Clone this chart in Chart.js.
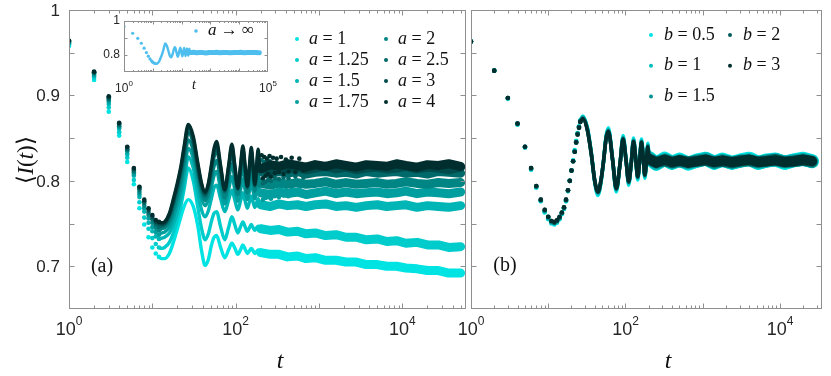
<!DOCTYPE html>
<html>
<head>
<meta charset="utf-8">
<script src="https://cdn.jsdelivr.net/npm/chart.js@4.4.1/dist/chart.umd.min.js"></script>
<style>
  html, body { margin: 0; padding: 0; background: #fff; }
  #wrap { position: relative; width: 831px; height: 376px; }
  #wrap canvas { position: absolute; left: 0; top: 0; }
</style>
</head>
<body>
<div id="wrap">
  <canvas id="leftPanel" width="831" height="376"></canvas>
  <canvas id="rightPanel" width="831" height="376"></canvas>
  <canvas id="insetPanel" width="831" height="376"></canvas>
</div>
<script>
// ---- panel (a): series a = 1 ... 4 ----
const aLabels = ['1', '1.25', '1.5', '1.75', '2', '2.5', '3', '4'];
const aColors = ['#00e3e3', '#00cccc', '#00b5b5', '#009e9e', '#008585', '#006a6a', '#004c4c', '#002d2d'];

// sampled times: single dots, oscillating part, late plateau, scattered transition
const tEarly = [1, 2, 3, 4, 5, 6, 7, 8, 9, 10, 11, 12];
const tOsc = [12, 13, 14, 16, 18, 20, 22, 24, 27, 31, 35, 39, 43, 47, 51, 55, 59, 66, 74, 82, 90, 98, 106, 114, 122, 130, 138, 146, 154, 162, 170, 178, 186, 194, 200];
const tBand = [200, 260, 330, 420, 550, 700, 900, 1200, 1600, 2100, 2800, 3700, 5000, 6500, 8500, 11000, 15000, 20000, 27000, 36000, 50000];
const tScatter = [205, 212, 220, 228, 236, 245, 255, 265, 280, 295, 310, 330, 350, 375, 400, 430, 470, 520, 580, 650];

const a1Early = [.958, .918, .881, .853, .822, .796, .768, .749, .734, .722, .715, .711];
const a125Early = [.960, .921, .886, .857, .827, .801, .775, .757, .744, .733, .726, .722];
const a15Early = [.961, .923, .890, .861, .831, .806, .781, .764, .751, .741, .735, .732];
const a175Early = [.962, .924, .893, .863, .834, .808, .784, .768, .756, .746, .740, .737];
const a2Early = [.963, .926, .895, .864, .836, .810, .787, .771, .760, .751, .745, .742];
const a25Early = [.963, .927, .896, .866, .837, .812, .790, .774, .763, .755, .749, .746];
const a3Early = [.964, .927, .898, .867, .839, .814, .792, .776, .766, .758, .752, .750];
const a4Early = [.964, .928, .899, .868, .840, .815, .793, .778, .768, .760, .754, .752];

const a1Osc = [.711, .709, .709, .715, .729, .744, .758, .770, .778, .770, .748, .718, .701, .708, .724, .734, .736, .722, .710, .719, .727, .721, .714, .719, .725, .720, .715, .718, .721, .718, .715, .717, .719, .717, .716];
const a125Osc = [.722, .721, .722, .728, .740, .755, .771, .790, .815, .800, .770, .744, .731, .738, .752, .762, .764, .746, .731, .745, .758, .748, .739, .746, .752, .746, .741, .745, .749, .745, .742, .745, .747, .745, .744];
const a15Osc = [.732, .733, .734, .739, .750, .764, .780, .799, .828, .815, .787, .766, .758, .765, .779, .792, .795, .779, .764, .777, .789, .777, .766, .776, .786, .776, .768, .775, .782, .775, .769, .774, .779, .773, .772];
const a175Osc = [.737, .739, .740, .746, .758, .773, .790, .810, .838, .826, .799, .779, .771, .778, .792, .806, .811, .790, .773, .789, .805, .789, .776, .789, .802, .789, .778, .788, .799, .788, .779, .787, .796, .787, .786];
const a2Osc = [.742, .744, .745, .752, .766, .782, .800, .820, .848, .835, .808, .786, .777, .785, .801, .817, .824, .801, .780, .801, .820, .801, .784, .801, .817, .801, .786, .800, .813, .800, .788, .799, .810, .798, .797];
const a25Osc = [.746, .747, .748, .757, .773, .790, .808, .829, .857, .843, .814, .791, .782, .791, .810, .828, .836, .811, .787, .811, .833, .811, .790, .811, .831, .811, .792, .811, .828, .811, .794, .811, .826, .811, .811];
const a3Osc = [.750, .749, .750, .760, .777, .795, .814, .836, .863, .849, .819, .795, .785, .795, .815, .834, .842, .815, .789, .815, .839, .815, .791, .815, .837, .815, .793, .815, .835, .815, .795, .815, .833, .815, .814];
const a4Osc = [.752, .751, .752, .762, .780, .798, .817, .840, .866, .852, .822, .797, .787, .797, .818, .838, .846, .818, .790, .817, .843, .817, .792, .817, .841, .817, .794, .817, .839, .817, .796, .817, .837, .816, .812];

const a1Band = [.716, .714, .714, .711, .712, .709, .710, .707, .707, .705, .705, .702, .702, .700, .700, .698, .697, .695, .695, .692, .692];
const a125Band = [.744, .742, .743, .740, .741, .738, .739, .736, .737, .734, .734, .731, .732, .729, .730, .727, .728, .725, .725, .722, .723];
const a15Band = [.772, .770, .773, .771, .772, .770, .772, .773, .770, .771, .769, .771, .772, .770, .771, .772, .769, .771, .770, .769, .771];
const a175Band = [.786, .784, .787, .785, .787, .784, .786, .788, .785, .787, .785, .786, .787, .785, .786, .788, .785, .787, .786, .785, .787];
const a2Band = [.797, .795, .798, .796, .798, .796, .797, .799, .796, .798, .796, .797, .798, .796, .797, .799, .797, .796, .798, .797, .798];
const a25Band = [.811, .808, .811, .809, .811, .808, .810, .811, .809, .810, .808, .811, .809, .810, .811, .809, .810, .808, .811, .810, .809];
const a3Band = [.815, .813, .816, .814, .816, .813, .815, .817, .814, .816, .813, .815, .816, .814, .815, .817, .814, .816, .815, .813, .816];
const a4Band = [.814, .819, .817, .820, .818, .816, .819, .817, .820, .818, .816, .819, .818, .817, .820, .818, .816, .819, .818, .820, .817];

// stray points right after the oscillations break up
const a175Scatter = [.797, .778, .795, .780, .794, .781, .796, .779, .793, .782, .794, .781, .792, .783, .793, .782, .792, .784, .791, .783];
const a25Scatter = [.824, .797, .822, .799, .821, .801, .823, .800, .820, .803, .821, .802, .819, .804, .820, .803, .819, .805, .818, .804];
const a4Scatter = [.830, .803, .828, .806, .826, .808, .829, .805, .827, .809, .826, .810, .828, .808, .825, .811, .827, .810, .826, .812];

// ---- inset: a -> infinity ----
const insetColor = '#4dbeee';
const ainfEarly = [.967, .928, .898, .869, .840, .814, .793, .777, .766, .758, .753, .750];
const ainfOsc = [.750, .748, .749, .758, .776, .795, .815, .839, .868, .853, .822, .796, .786, .797, .818, .838, .846, .818, .790, .817, .843, .817, .792, .817, .841, .817, .794, .817, .839, .817, .796, .817, .837, .816, .813];
const ainfBand = [.814, .816, .813, .815, .814, .812, .815, .814, .816, .813, .814, .815, .813, .815, .814, .816, .813, .814, .815, .814, .813];

// ---- panel (b): series b = 0.5 ... 3 ----
const bLabels = ['0.5', '1', '1.5', '2', '3'];
const bColors = ['#00e3e3', '#00bdbd', '#009090', '#005c5c', '#002d2d'];

const tEarlyR = [1, 2, 3, 4, 5, 6, 7, 8, 9, 10, 11, 12, 13, 14, 15, 16, 17, 18, 19, 20, 21, 22, 23, 24, 25, 26];
const tOscR = [26, 28, 32, 36, 40, 44, 48, 52, 56, 60, 68, 76, 85, 93, 102, 110, 119, 127, 136, 144, 153, 161, 170, 178, 187, 195, 200];
const tBandR = [200, 250, 320, 400, 500, 650, 850, 1100, 1400, 1800, 2400, 3100, 4000, 5200, 6800, 8800, 11500, 15000, 20000, 26000];

const b05Early = [.963, .929, .896, .866, .839, .813, .792, .776, .763, .755, .750, .749, .751, .755, .761, .767, .776, .788, .800, .812, .824, .836, .847, .856, .864, .871];
const b1Early = [.963, .929, .897, .866, .839, .814, .793, .777, .764, .756, .751, .750, .752, .756, .762, .768, .777, .788, .800, .812, .823, .835, .846, .855, .863, .870];
const b15Early = [.963, .929, .897, .867, .840, .814, .793, .777, .765, .757, .752, .751, .753, .757, .762, .768, .777, .789, .800, .812, .823, .834, .845, .855, .863, .870];
const b2Early = [.963, .929, .897, .867, .840, .815, .794, .778, .766, .758, .753, .751, .753, .757, .763, .769, .778, .789, .800, .812, .823, .834, .845, .855, .863, .869];
const b3Early = [.963, .929, .897, .867, .840, .815, .794, .778, .766, .758, .753, .752, .754, .758, .763, .769, .778, .789, .800, .812, .823, .834, .845, .854, .862, .869];

const b05Osc = [.871, .876, .863, .834, .798, .783, .797, .823, .852, .862, .826, .787, .820, .853, .824, .795, .822, .850, .826, .801, .825, .849, .827, .803, .824, .844, .831];
const b1Osc = [.870, .875, .862, .833, .799, .785, .798, .823, .851, .860, .825, .789, .820, .851, .823, .797, .822, .848, .825, .803, .825, .847, .826, .805, .824, .842, .830];
const b15Osc = [.870, .874, .861, .833, .800, .786, .799, .823, .850, .859, .825, .790, .820, .850, .823, .798, .822, .847, .825, .804, .825, .846, .826, .806, .824, .841, .830];
const b2Osc = [.869, .873, .860, .832, .800, .787, .800, .823, .849, .858, .825, .791, .820, .849, .823, .799, .822, .846, .825, .805, .825, .845, .826, .807, .824, .840, .830];
const b3Osc = [.869, .873, .860, .832, .800, .787, .800, .823, .849, .858, .825, .791, .820, .849, .823, .799, .822, .846, .825, .805, .825, .845, .826, .807, .824, .840, .830];

const b05Band = [.827, .820, .826, .821, .825, .820, .824, .826, .821, .825, .821, .824, .826, .821, .824, .825, .821, .824, .826, .823];
const b1Band = [.827, .820, .825, .821, .824, .821, .823, .826, .822, .824, .821, .823, .825, .821, .823, .825, .822, .824, .825, .823];
const b15Band = [.826, .821, .825, .822, .823, .821, .824, .825, .821, .824, .822, .823, .824, .822, .824, .824, .822, .823, .825, .822];
const b2Band = [.825, .822, .824, .821, .824, .822, .823, .824, .822, .823, .821, .824, .824, .822, .823, .825, .822, .823, .824, .823];
const b3Band = [.826, .821, .825, .822, .824, .821, .823, .825, .822, .824, .822, .823, .825, .822, .823, .824, .822, .823, .825, .823];

const yTickVals = [0.7, 0.75, 0.8, 0.85, 0.9, 0.95];

const SANS = '"Liberation Sans", Arial, sans-serif';
const SERIF = '"Liberation Serif", "Times New Roman", serif';
const W = 831, H = 376;

const seriesA = [
  { label: aLabels[0], color: aColors[0], early: a1Early, osc: a1Osc, band: a1Band },
  { label: aLabels[1], color: aColors[1], early: a125Early, osc: a125Osc, band: a125Band },
  { label: aLabels[2], color: aColors[2], early: a15Early, osc: a15Osc, band: a15Band },
  { label: aLabels[3], color: aColors[3], early: a175Early, osc: a175Osc, band: a175Band, scatter: a175Scatter },
  { label: aLabels[4], color: aColors[4], early: a2Early, osc: a2Osc, band: a2Band },
  { label: aLabels[5], color: aColors[5], early: a25Early, osc: a25Osc, band: a25Band, scatter: a25Scatter },
  { label: aLabels[6], color: aColors[6], early: a3Early, osc: a3Osc, band: a3Band },
  { label: aLabels[7], color: aColors[7], early: a4Early, osc: a4Osc, band: a4Band, scatter: a4Scatter }
];
const seriesB = [
  { label: bLabels[0], color: bColors[0], early: b05Early, osc: b05Osc, band: b05Band, bandW: 14 },
  { label: bLabels[1], color: bColors[1], early: b1Early, osc: b1Osc, band: b1Band, bandW: 13 },
  { label: bLabels[2], color: bColors[2], early: b15Early, osc: b15Osc, band: b15Band, bandW: 12 },
  { label: bLabels[3], color: bColors[3], early: b2Early, osc: b2Osc, band: b2Band, bandW: 11 },
  { label: bLabels[4], color: bColors[4], early: b3Early, osc: b3Osc, band: b3Band, bandW: 10 }
];

const xy = (ts, vs) => ts.map((t, i) => ({ x: t, y: vs[i] }));

function dots(data, color, r) {
  return { data, showLine: false, pointRadius: r, pointHoverRadius: 0,
    pointBackgroundColor: color, pointBorderWidth: 0, borderColor: color };
}

// datasets per series: plateau band, oscillating curve, early dots (+ stray dots)
function seriesSets(s, tE, tO, tB, w) {
  const sets = [
    { data: xy(tB, s.band), showLine: true, borderColor: s.color, borderWidth: s.bandW || w.band,
      pointRadius: 0, tension: 0, borderJoinStyle: 'round', borderCapStyle: 'round' },
    { data: xy(tO, s.osc), showLine: true, borderColor: s.color, borderWidth: w.osc,
      pointRadius: 0, cubicInterpolationMode: 'monotone', borderCapStyle: 'round' },
    dots(xy(tE, s.early), s.color, w.dot)
  ];
  if (s.scatter) sets.push(dots(xy(tScatter, s.scatter), s.color, w.dot));
  return sets;
}

// darkest series first so it ends up drawn on top
function buildSets(list, tE, tO, tB, w) {
  return list.slice().reverse().flatMap(s => seriesSets(s, tE, tO, tB, w));
}

function mathText(c, parts, x, y, size, align) {
  let total = 0;
  for (const [txt, it] of parts) {
    c.font = (it ? 'italic ' : '') + size + 'px ' + SERIF;
    total += c.measureText(txt).width;
  }
  let px = align === 'center' ? x - total / 2 : x;
  c.textAlign = 'left';
  for (const [txt, it] of parts) {
    c.font = (it ? 'italic ' : '') + size + 'px ' + SERIF;
    c.fillText(txt, px, y);
    px += c.measureText(txt).width;
  }
}

function drawAxes(chart, o) {
  const c = chart.ctx, a = chart.chartArea, xs = chart.scales.x, ys = chart.scales.y;
  c.save();
  c.strokeStyle = '#8f8f8f';
  c.lineWidth = 1;
  const L = Math.round(a.left) + 0.5, R = Math.round(a.right) - 0.5;
  const T = Math.round(a.top) + 0.5, B = Math.round(a.bottom) - 0.5;
  c.strokeRect(L, T, R - L, B - T);
  c.beginPath();
  for (const v of o.yTicks) {
    const p = Math.round(ys.getPixelForValue(v)) + 0.5;
    c.moveTo(L, p); c.lineTo(L + o.major, p);
    c.moveTo(R, p); c.lineTo(R - o.major, p);
  }
  const e0 = Math.floor(Math.log10(xs.min)), e1 = Math.ceil(Math.log10(xs.max));
  for (let e = e0; e <= e1; e++) {
    for (let m = 1; m <= 9; m++) {
      const v = m * Math.pow(10, e);
      if (v <= xs.min * 1.001 || v >= xs.max * 0.999) continue;
      const p = Math.round(xs.getPixelForValue(v)) + 0.5;
      const len = m === 1 ? o.major : o.minor;
      c.moveTo(p, B); c.lineTo(p, B - len);
      c.moveTo(p, T); c.lineTo(p, T + len);
    }
  }
  c.stroke();

  c.fillStyle = '#262626';
  c.textBaseline = 'middle';
  c.textAlign = 'right';
  c.font = o.yFont + 'px ' + SANS;
  for (const [v, txt] of o.yLabels) {
    c.fillText(txt, o.yLabelX, ys.getPixelForValue(v) + (o.yDy || 0));
  }
  c.textAlign = 'left';
  for (const e of o.xExps) {
    const px = xs.getPixelForValue(Math.pow(10, e));
    c.font = o.xFont + 'px ' + SANS;
    const w1 = c.measureText('10').width;
    c.font = o.supFont + 'px ' + SANS;
    const w2 = c.measureText(String(e)).width;
    const x0 = px - (w1 + w2) / 2;
    c.font = o.xFont + 'px ' + SANS;
    c.fillText('10', x0, o.xLabelY);
    c.font = o.supFont + 'px ' + SANS;
    c.fillText(String(e), x0 + w1, o.xLabelY - o.supRise);
  }
  c.restore();
}

function legendDot(c, x, y, color, r) {
  c.beginPath();
  c.arc(x, y, r, 0, Math.PI * 2);
  c.fillStyle = color;
  c.fill();
}

function makeChart(id, datasets, area, xMax, yMin, yMax, plugin) {
  return new Chart(document.getElementById(id), {
    type: 'scatter',
    data: { datasets },
    options: {
      responsive: false,
      animation: false,
      events: [],
      layout: {
        autoPadding: false,
        padding: { left: area.l, top: area.t, right: W - area.r, bottom: H - area.b }
      },
      plugins: { legend: { display: false }, tooltip: { enabled: false } },
      scales: {
        x: { type: 'logarithmic', min: 1, max: xMax, display: false },
        y: { type: 'linear', min: yMin, max: yMax, display: false }
      }
    },
    plugins: [plugin]
  });
}

// ---- left panel ----
makeChart('leftPanel', buildSets(seriesA, tEarly, tOsc, tBand, { band: 9, osc: 3.4, dot: 2.3 }),
  { l: 69, t: 10, r: 466, b: 309 }, 58000, 0.65, 1, {
    id: 'leftFrame',
    afterDraw(chart) {
      drawAxes(chart, {
        yTicks: yTickVals, major: 5, minor: 3,
        yLabels: [[1, '1'], [0.9, '0.9'], [0.8, '0.8'], [0.7, '0.7']],
        yFont: 17, yLabelX: 60, yDy: 1,
        xExps: [0, 2, 4], xFont: 18, supFont: 12, supRise: 8, xLabelY: 330
      });
      const c = chart.ctx;
      c.save();
      c.fillStyle = '#111';
      c.textBaseline = 'middle';
      // legend, column-major
      seriesA.forEach((s, i) => {
        const col = Math.floor(i / 4), row = i % 4;
        const dx = col === 0 ? 297 : 386, y = 39 + row * 21;
        legendDot(c, dx, y, s.color, 2);
        c.fillStyle = '#111';
        mathText(c, [['a', true], [' = ' + s.label, false]], dx + 12, y, 18);
      });
      mathText(c, [['(a)', false]], 102, 267, 20, 'center');
      mathText(c, [['t', true]], 280, 362, 24, 'center');
      c.translate(27, 160);
      c.rotate(-Math.PI / 2);
      mathText(c, [['\u27E8', false], ['I', true], ['(', false], ['t', true], [')', false], ['\u27E9', false]], 0, 0, 23, 'center');
      c.restore();
    }
  });

// ---- right panel ----
makeChart('rightPanel', buildSets(seriesB, tEarlyR, tOscR, tBandR, { band: 10, osc: 3.6, dot: 2.3 }),
  { l: 471, t: 10, r: 822, b: 309 }, 35000, 0.65, 1, {
    id: 'rightFrame',
    afterDraw(chart) {
      drawAxes(chart, {
        yTicks: yTickVals, major: 5, minor: 3,
        yLabels: [], yFont: 17, yLabelX: 0,
        xExps: [0, 2, 4], xFont: 18, supFont: 12, supRise: 8, xLabelY: 330
      });
      const c = chart.ctx;
      c.save();
      c.textBaseline = 'middle';
      seriesB.forEach((s, i) => {
        const col = i < 3 ? 0 : 1, row = i < 3 ? i : i - 3;
        const dx = col === 0 ? 651 : 730, y = 35 + row * 30.7;
        legendDot(c, dx, y, s.color, 2);
        c.fillStyle = '#111';
        mathText(c, [['b', true], [' = ' + s.label, false]], dx + 13, y, 18);
      });
      mathText(c, [['(b)', false]], 505, 266, 20, 'center');
      mathText(c, [['t', true]], 668, 362, 24, 'center');
      c.restore();
    }
  });

// ---- inset ----
makeChart('insetPanel', [
    { data: xy(tBand, ainfBand), showLine: true, borderColor: insetColor, borderWidth: 5,
      pointRadius: 0, tension: 0, borderJoinStyle: 'round', borderCapStyle: 'round' },
    { data: xy(tOsc, ainfOsc), showLine: true, borderColor: insetColor, borderWidth: 2.4,
      pointRadius: 0, cubicInterpolationMode: 'monotone' },
    dots(xy(tEarly, ainfEarly), insetColor, 1.6)
  ],
  { l: 124, t: 21, r: 268, b: 72 }, 100000, 0.7, 1, {
    id: 'insetFrame',
    beforeDatasetsDraw(chart) {
      const a = chart.chartArea, c = chart.ctx;
      c.save();
      c.fillStyle = '#fff';
      c.fillRect(a.left, a.top, a.right - a.left, a.bottom - a.top);
      c.restore();
    },
    afterDraw(chart) {
      drawAxes(chart, {
        yTicks: [0.8, 0.9], major: 3, minor: 1.5,
        yLabels: [[1, '1'], [0.8, '0.8']], yFont: 12, yLabelX: 120, yDy: 0,
        xExps: [0, 5], xFont: 12, supFont: 8, supRise: 5, xLabelY: 89
      });
      const c = chart.ctx;
      c.save();
      c.textBaseline = 'middle';
      c.fillStyle = '#111';
      mathText(c, [['t', true]], 194, 85, 14, 'center');
      legendDot(c, 196, 31, insetColor, 1.8);
      c.fillStyle = '#111';
      mathText(c, [['a', true], [' \u2192 \u221E', false]], 208, 31, 17);
      c.restore();
    }
  });
</script>
</body>
</html>
